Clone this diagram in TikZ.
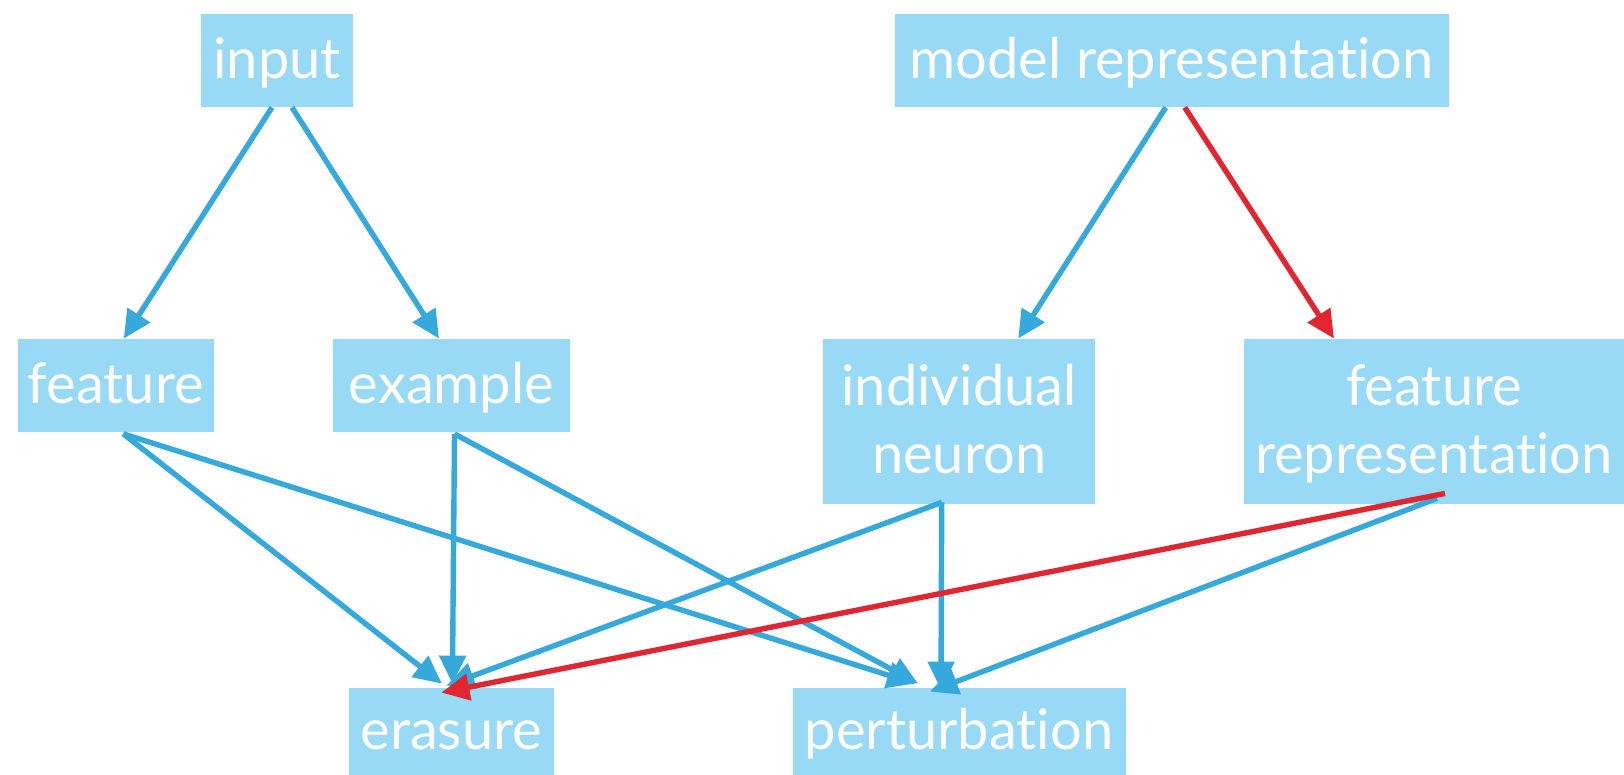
\documentclass[tikz,border=0pt]{standalone}
\usepackage{fontspec}
\setmainfont{Lato}[Ligatures=NoCommon,RawFeature={-liga;-dlig;-clig}]
\usetikzlibrary{arrows.meta,calc}
\definecolor{boxfill}{HTML}{98DAF5}
\definecolor{edgeblue}{HTML}{35A8DC}
\definecolor{edgered}{HTML}{E12631}
\begin{document}
\begin{tikzpicture}[x=0.5pt,y=-0.5pt,
  box/.style={fill=boxfill, text=white, inner sep=0pt,
    font=\fontsize{28}{34}\selectfont, text height=22pt, text depth=4pt},
  tall/.style={text height=56pt},
  link/.style={draw=edgeblue, line width=2.7pt, -{Triangle[length=14pt,width=13pt]}},
  hot/.style={link, draw=edgered}]
\useasboundingbox (0,0) rectangle (1624,775);

% top row
\node[box, minimum width=76pt, minimum height=46.25pt] (input) at (277,60.75) {input};
\node[box, minimum width=276.75pt, minimum height=46.25pt] (model) at (1171.75,60.75) {model representation};

% middle row
\node[box, minimum width=98.2pt, minimum height=46.75pt] (feature) at (115.8,385.75) {feature};
\node[box, minimum width=118.5pt, minimum height=46.75pt] (example) at (451.5,385.75) {example};
\node[box, tall, minimum width=135.8pt, minimum height=82.5pt] (neuron) at (959.2,421.5)
  {\begin{tabular}[b]{@{}c@{}}individual\\neuron\end{tabular}};
\node[box, tall, minimum width=190pt, minimum height=82.5pt] (featrep) at (1434,421.5)
  {\begin{tabular}[b]{@{}c@{}}feature\\representation\end{tabular}};

% bottom row
\node[box, minimum width=102.6pt, minimum height=43.5pt] (erasure) at (451.4,731.5) {erasure};
\node[box, minimum width=166.5pt, minimum height=43.5pt] (perturb) at (959,731.5) {perturbation};

% upper connectors
\draw[link] ($(input.south)+(-5,0)$) -- ($(feature.north)+(8,0)$);
\draw[link] ($(input.south)+(15,0)$) -- ($(example.north)+(-12.5,0)$);
\draw[link] ($(model.south)+(-6,0)$) -- ($(neuron.north)+(59,0)$);
\draw[hot]  ($(model.south)+(13,0)$) -- ($(featrep.north)+(-100,0)$);

% lower connectors
\draw[link] ($(feature.south)+(7.5,1)$) -- ($(erasure.north)+(-9.5,-4)$);
\draw[link] ($(feature.south)+(7.5,1)$) -- ($(perturb.north)+(-44,-4)$);
\draw[link] ($(example.south)+(3,1)$) -- ($(erasure.north)+(1,-4)$);
\draw[link] ($(example.south)+(3,1)$) -- ($(perturb.north)+(-41,-4)$);
\draw[link] ($(neuron.south)+(-17.5,-2)$) -- ($(erasure.north)+(-5,-2)$);
\draw[link] ($(neuron.south)+(-17.5,-2)$) -- ($(perturb.north)+(-18,2)$);
\draw[link] ($(featrep.south)+(3,-6)$) -- ($(perturb.north)+(-29,4)$);
\draw[hot]  ($(featrep.south)+(11,-11)$) -- ($(erasure.north)+(-10,5)$);
\end{tikzpicture}
\end{document}
